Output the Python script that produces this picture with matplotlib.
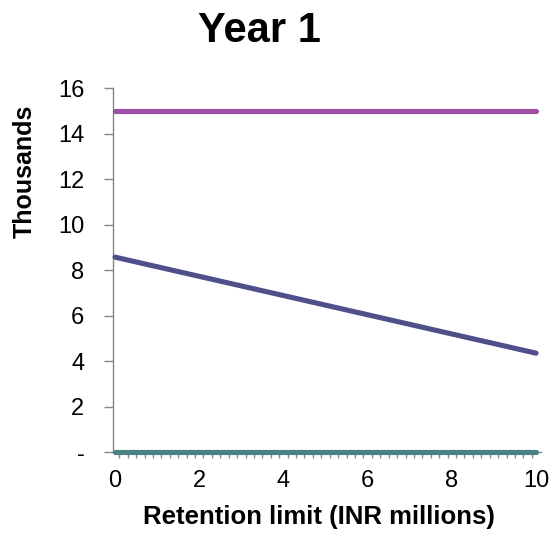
import matplotlib.pyplot as plt
from matplotlib.ticker import FixedLocator

plt.rcParams['font.family'] = ['Liberation Sans', 'DejaVu Sans']

# retention limit (INR millions) at the two ends of each line
retention = [0, 10]
series_top = [15.0, 15.0]
series_mid = [8.57, 4.35]
series_low = [0.0, 0.0]

y_ticks = [0, 2, 4, 6, 8, 10, 12, 14, 16]
y_labels = ['-', '2', '4', '6', '8', '10', '12', '14', '16']
x_ticks = [0, 2, 4, 6, 8, 10]

fig = plt.figure(figsize=(5.51, 5.37), dpi=100)
ax = fig.add_axes([0.205, 0.158, 0.777, 0.678])

ax.plot(retention, series_top, color='#A04FA6', lw=3.7, solid_capstyle='round', clip_on=False, zorder=3)
ax.plot(retention, series_mid, color='#4F4F8C', lw=3.7, solid_capstyle='round', clip_on=False, zorder=3)
ax.plot(retention, series_low, color='#4A8285', lw=3.7, solid_capstyle='round', clip_on=False, zorder=3)

ax.set_xlim(-0.05, 10.12)
ax.set_ylim(0, 16)

for side in ['top', 'right']:
    ax.spines[side].set_visible(False)
for side in ['left', 'bottom']:
    ax.spines[side].set_color('#868686')
    ax.spines[side].set_linewidth(1.0)

ax.set_yticks(y_ticks)
ax.set_yticklabels(y_labels, fontsize=17)
ax.tick_params(axis='y', direction='out', length=6.5, width=1, color='#868686', pad=14)

ax.set_xticks(x_ticks)
ax.set_xticklabels([str(t) for t in x_ticks], fontsize=17)
ax.tick_params(axis='x', which='major', length=0, pad=13)
ax.xaxis.set_minor_locator(FixedLocator([0.1 + 0.2 * i for i in range(50)]))
ax.tick_params(axis='x', which='minor', direction='out', length=4.5, width=1, color='#868686')

ax.set_xlabel('Retention limit (INR millions)', fontsize=18.5, fontweight='bold')
ax.xaxis.set_label_coords(0.481, -0.145)
ax.set_ylabel('Thousands', fontsize=18, fontweight='bold')
ax.yaxis.set_label_coords(-0.178, 0.77)

fig.text(0.471, 0.922, 'Year 1', fontsize=30, fontweight='bold', ha='center', va='baseline')

fig.savefig('out.png', dpi=100)
